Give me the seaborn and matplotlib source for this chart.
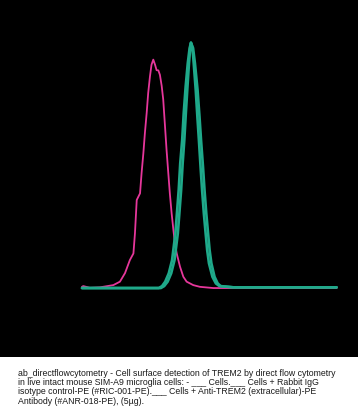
import matplotlib
matplotlib.use("Agg")
import matplotlib.pyplot as plt
import seaborn as sns
import numpy as np

# Fluorescence channel (0-1000) and relative counts
isotype_x = [0, 5, 31, 71, 123, 149, 169, 188, 202, 208, 215, 228, 234, 241, 247, 254,
             260, 267, 273, 280, 287, 293, 300, 306, 313, 319, 326, 332, 339, 345, 352,
             359, 365, 372, 385, 398, 411, 437, 463, 516, 600, 1000]
isotype_y = [0.5, 0.8, 0.1, 0.3, 1.2, 2.6, 6.1, 11.4, 14.1, 22.3, 35.9, 38.6, 46.8, 54.9,
             63.1, 71.3, 79.5, 86.3, 91.0, 93.1, 91.0, 88.8, 88.7, 86.9, 82.4, 76.9, 66.0,
             56.5, 46.8, 38.6, 30.5, 23.7, 18.2, 14.1, 8.7, 4.6, 2.6, 1.2, 0.5, 0.0, 0.0, 0.0]

trem2_x = [0, 200, 306, 319, 332, 346, 359, 372, 378, 385, 391, 398, 404, 411, 418, 424,
           428, 435, 441, 450, 457, 463, 470, 476, 483, 490, 496, 503, 516, 529, 542,
           594, 725, 1000]
trem2_y = [0.0, 0.0, 0.0, 0.8, 2.6, 6.0, 11.4, 22.3, 30.4, 40.0, 50.8, 60.3, 71.2, 82.1,
           91.6, 97.8, 100.0, 97.8, 91.6, 80.7, 69.8, 60.3, 49.5, 40.0, 30.4, 22.3, 15.5,
           10.1, 4.6, 1.9, 0.8, 0.3, 0.3, 0.3]
# channel offset between the two anti-TREM2 replicate traces
trem2_shift = [0, 0, -7, -7, -8, -8, -8, -8, -8, -8, -8, -7, -7, -6, -4, -2, 0, 2, 4, 6,
               7, 7, 8, 8, 8, 8, 8, 8, 7, 6, 4, 0, 0, 0]

caption = ("ab_directflowcytometry - Cell surface detection of TREM2 by direct flow cytometry\n"
           "in live intact mouse SIM-A9 microglia cells: - ___ Cells.___ Cells + Rabbit IgG\n"
           "isotype control-PE (#RIC-001-PE).___ Cells + Anti-TREM2 (extracellular)-PE\n"
           "Antibody (#ANR-018-PE), (5\u00b5g).")

sns.set_theme(style="white")
plt.rcParams['font.family'] = ['Liberation Sans', 'DejaVu Sans']

fig = plt.figure(figsize=(3.58, 4.18), dpi=100)
fig.patch.set_facecolor("white")
ax = fig.add_axes([0, 1 - 357 / 418, 1, 357 / 418])
ax.set_facecolor("black")

pink = "#e6379b"
green = "#1fa98a"

sns.lineplot(x=isotype_x, y=isotype_y, ax=ax, color=pink, linewidth=1.3,
             estimator=None, sort=False)
trem2_x2 = [a + 0.65 * b for a, b in zip(trem2_x, trem2_shift)]
trem2_x3 = [a - 0.55 * b for a, b in zip(trem2_x, trem2_shift)]
sns.lineplot(x=trem2_x2, y=trem2_y, ax=ax, color=green, linewidth=1.9,
             estimator=None, sort=False)
sns.lineplot(x=trem2_x3, y=trem2_y, ax=ax, color=green, linewidth=1.9,
             estimator=None, sort=False)

ax.set_xlim(-322, 1084)
ax.set_ylim(-28.1, 117.4)
ax.set_xticks([])
ax.set_yticks([])
for s in ax.spines.values():
    s.set_visible(False)

fig.text(18 / 358, 1 - 368.5 / 418, caption, ha="left", va="top", fontsize=6.35,
         linespacing=1.07, color="#1a1a1a")

fig.savefig("out.png", dpi=100, facecolor="white")
